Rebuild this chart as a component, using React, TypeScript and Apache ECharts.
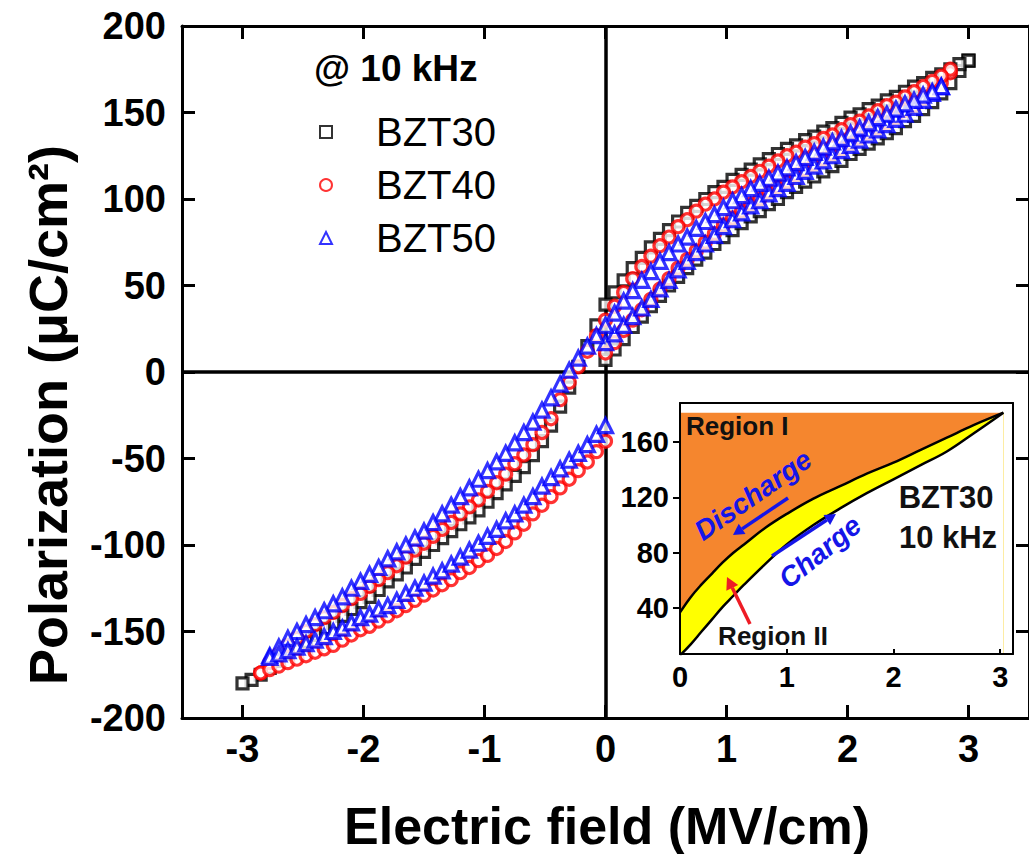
import React, { useEffect, useRef } from "react";
import * as echarts from "echarts";

// Shared field grid (MV/cm) used by every measured branch
const FIELD = [0, 0.075, 0.15, 0.225, 0.3, 0.375, 0.45, 0.525, 0.6, 0.675, 0.75, 0.825, 0.9, 0.975, 1.05, 1.125, 1.2, 1.275, 1.35, 1.425, 1.5, 1.575, 1.65, 1.725, 1.8, 1.875, 1.95, 2.025, 2.1, 2.175, 2.25, 2.325, 2.4, 2.475, 2.55, 2.625, 2.7, 2.775, 2.85, 2.925, 3.0];

// BZT30 (µC/cm²)
const BZT30_CHARGE = [7, 13, 19, 26, 32, 38, 44, 50, 55, 60, 65, 69, 74, 78, 82, 86, 90, 93, 97, 100, 104, 107, 110, 113, 116, 119, 122, 126, 129, 132, 135, 138, 141, 145, 148, 152, 156, 161, 167, 174, 180];
const BZT30_DIS_POS = [39, 46, 53, 60, 66, 72, 77, 82, 87, 92, 96, 100, 104, 107, 111, 114, 117, 120, 123, 126, 129, 131, 134, 136, 139, 141, 144, 147, 149, 152, 154, 157, 159, 162, 165, 167, 170, 172, 175, 178, 180];
const BZT30_DIS_NEG = [39, 27, 15, 3, -9, -20, -31, -40, -48, -55, -60, -65, -70, -75, -80, -84, -88, -92, -96, -100, -104, -108, -113, -117, -121, -126, -130, -133, -137, -141, -145, -148, -152, -156, -160, -163, -167, -171, -175, -178, -180];

// BZT40
const BZT40_CHARGE = [11, 17, 24, 30, 36, 42, 48, 54, 60, 65, 70, 75, 80, 85, 89, 93, 97, 100, 104, 107, 110, 114, 117, 120, 123, 126, 129, 132, 135, 138, 141, 144, 147, 151, 154, 158, 162, 167, 173];
const BZT40_DIS_POS = [30, 38, 46, 54, 61, 67, 73, 78, 84, 88, 93, 97, 100, 104, 107, 110, 113, 116, 119, 122, 125, 127, 130, 132, 135, 137, 140, 143, 145, 148, 151, 154, 156, 159, 162, 165, 168, 171, 175];
const BZT40_DIS_NEG = [30, 21, 12, 3, -6, -16, -27, -35, -42, -48, -53, -59, -64, -69, -74, -78, -82, -87, -91, -95, -99, -103, -107, -112, -116, -120, -124, -128, -131, -135, -139, -142, -146, -150, -154, -158, -163, -168, -174];
const BZT40_RETURN = [-40, -46, -52, -57, -62, -67, -72, -77, -82, -88, -93, -98, -102, -106, -109, -113, -116, -120, -123, -126, -129, -132, -135, -138, -141, -144, -147, -149, -152, -155, -158, -160, -162, -164, -166, -168, -170, -172, -174];

// BZT50
const BZT50_CHARGE = [17, 22, 27, 32, 37, 42, 48, 53, 59, 64, 69, 74, 79, 84, 88, 92, 96, 99, 103, 106, 109, 113, 116, 119, 122, 125, 128, 131, 134, 137, 140, 143, 146, 149, 153, 157, 161, 165];
const BZT50_DIS_POS = [27, 34, 41, 47, 53, 58, 64, 69, 74, 78, 83, 87, 91, 95, 99, 102, 106, 109, 112, 115, 118, 121, 124, 127, 130, 133, 135, 138, 141, 144, 147, 149, 152, 155, 157, 160, 162, 165];
const BZT50_DIS_NEG = [27, 21, 15, 8, 1, -7, -15, -22, -29, -35, -41, -47, -52, -57, -62, -67, -72, -77, -82, -87, -92, -96, -100, -104, -108, -113, -117, -121, -125, -130, -134, -138, -142, -146, -150, -154, -159, -164];
const BZT50_RETURN = [-31, -36, -42, -47, -51, -56, -61, -66, -72, -77, -82, -86, -91, -95, -99, -103, -107, -111, -115, -118, -122, -125, -128, -132, -135, -137, -140, -142, -145, -148, -150, -153, -155, -157, -159, -161, -163, -165];

// Inset (BZT30, 10 kHz, positive branch)
const INSET_E = [0, 0.1, 0.2, 0.3, 0.4, 0.5, 0.6, 0.8, 1.0, 1.25, 1.5, 1.75, 2.0, 2.25, 2.5, 2.75, 3.03];
const INSET_DISCHARGE = [37, 48, 57, 65, 73, 80, 86, 98, 108, 119, 128, 137, 145, 154, 163, 172, 181];
const INSET_CHARGE = [6, 14, 23, 32, 41, 49, 57, 72, 86, 100, 112, 123, 133, 143, 153, 166, 181];
const INSET_TOP = 181;

// Tick values
const X_TICKS = [-3, -2, -1, 0, 1, 2, 3];
const INSET_X_TICKS = [0, 1, 2, 3];
const INSET_Y_TICKS = [40, 80, 120, 160];

const FONT = "'Liberation Sans', Arial, Helvetica, sans-serif";

function branch(values: number[], sign: number, reverse: boolean, skipZero: boolean) {
  const pts: number[][] = [];
  for (let i = 0; i < values.length; i++) {
    if (skipZero && i === 0) continue;
    pts.push([sign * FIELD[i], values[i]]);
  }
  return reverse ? pts.reverse() : pts;
}

function pairs(xs: number[], ys: number[]) {
  return xs.map((x, i) => [x, ys[i]]);
}

function arrow(x1: number, y1: number, x2: number, y2: number, color: string, width: number, head: number) {
  const ang = Math.atan2(y2 - y1, x2 - x1);
  const hx = x2 - head * Math.cos(ang);
  const hy = y2 - head * Math.sin(ang);
  const px = -Math.sin(ang) * head * 0.55;
  const py = Math.cos(ang) * head * 0.55;
  return [
    { type: "line", z: 100, shape: { x1, y1, x2: hx, y2: hy }, style: { stroke: color, lineWidth: width } },
    { type: "polygon", z: 100, shape: { points: [[x2, y2], [hx + px, hy + py], [hx - px, hy - py]] }, style: { fill: color } },
  ];
}

const bzt30Data = [
  ...branch(BZT30_CHARGE, 1, false, false),
  ...branch(BZT30_DIS_POS, 1, true, false),
  ...branch(BZT30_DIS_NEG, -1, false, true),
];
const bzt40Data = [
  ...branch(BZT40_CHARGE, 1, false, false),
  ...branch(BZT40_DIS_POS, 1, true, false),
  ...branch(BZT40_DIS_NEG, -1, false, true),
  ...branch(BZT40_RETURN, -1, true, false),
];
const bzt50Data = [
  ...branch(BZT50_CHARGE, 1, false, false),
  ...branch(BZT50_DIS_POS, 1, true, false),
  ...branch(BZT50_DIS_NEG, -1, false, true),
  ...branch(BZT50_RETURN, -1, true, false),
];

const mainLine = { show: true, onZero: false, lineStyle: { color: "#000", width: 3 } };
const mainTick = { show: true, inside: true, length: 13, lineStyle: { color: "#000", width: 3 } };
const tickFont = { color: "#000", fontSize: 38, fontWeight: "bold", fontFamily: FONT };
const insetLine = { show: true, onZero: false, lineStyle: { color: "#000", width: 2 } };
const insetFont = { color: "#000", fontSize: 29, fontWeight: "bold", fontFamily: FONT };

const option: any = {
  animation: false,
  backgroundColor: "#fff",
  grid: [
    { left: 182, top: 26, width: 852, height: 692, show: false },
    { left: 680, top: 403, width: 333, height: 251, show: true, backgroundColor: "#fff", borderWidth: 0 },
  ],
  xAxis: [
    {
      type: "value", gridIndex: 0, position: "bottom", min: -3.5, max: 3.5,
      axisLine: mainLine,
      axisTick: { ...mainTick, customValues: X_TICKS },
      axisLabel: { show: true, customValues: X_TICKS, margin: 12, ...tickFont },
      splitLine: { show: false },
    },
    {
      type: "value", gridIndex: 0, position: "top", min: -3.5, max: 3.5,
      axisLine: mainLine,
      axisTick: { ...mainTick, customValues: X_TICKS },
      axisLabel: { show: false },
      splitLine: { show: false },
    },
    {
      type: "value", gridIndex: 1, position: "bottom", min: 0, max: 3.12, z: 10,
      axisLine: insetLine,
      axisTick: { show: true, inside: true, length: 5, lineStyle: { color: "#000", width: 2 }, customValues: INSET_X_TICKS },
      axisLabel: { show: true, customValues: INSET_X_TICKS, margin: 8, ...insetFont },
      splitLine: { show: false },
    },
    {
      type: "value", gridIndex: 1, position: "top", min: 0, max: 3.12, z: 10,
      axisLine: insetLine, axisTick: { show: false }, axisLabel: { show: false }, splitLine: { show: false },
    },
  ],
  yAxis: [
    {
      type: "value", gridIndex: 0, position: "left", min: -200, max: 200, interval: 50,
      axisLine: mainLine, axisTick: mainTick,
      axisLabel: { show: true, margin: 16, ...tickFont },
      splitLine: { show: false },
    },
    {
      type: "value", gridIndex: 0, position: "right", min: -200, max: 200, interval: 50,
      axisLine: mainLine, axisTick: mainTick, axisLabel: { show: false }, splitLine: { show: false },
    },
    {
      type: "value", gridIndex: 1, position: "left", min: 7, max: 188, z: 10,
      axisLine: insetLine,
      axisTick: { show: true, inside: false, length: 7, lineStyle: { color: "#000", width: 2 }, customValues: INSET_Y_TICKS },
      axisLabel: { show: true, customValues: INSET_Y_TICKS, margin: 11, ...insetFont },
      splitLine: { show: false },
    },
    {
      type: "value", gridIndex: 1, position: "right", min: 7, max: 188, z: 10,
      axisLine: insetLine, axisTick: { show: false }, axisLabel: { show: false }, splitLine: { show: false },
    },
  ],
  legend: {
    data: ["BZT30", "BZT40", "BZT50"],
    orient: "vertical",
    left: 314,
    top: 107,
    itemWidth: 12,
    itemHeight: 12,
    itemGap: 13,
    selectedMode: false,
    textStyle: { color: "#000", fontSize: 40, fontFamily: FONT, lineHeight: 40, padding: [0, 0, 0, 39] },
  },
  series: [
    {
      name: "BZT30", type: "scatter", xAxisIndex: 0, yAxisIndex: 0, z: 2,
      symbol: "rect", symbolSize: 11,
      itemStyle: { color: "#fff", borderColor: "#000", borderWidth: 3.2 },
      emphasis: { disabled: true },
      data: bzt30Data,
      markLine: {
        silent: true, z: 1, symbol: "none", label: { show: false },
        lineStyle: { color: "#000", width: 3.5, type: "solid" },
        emphasis: { disabled: true },
        data: [{ xAxis: 0 }, { yAxis: 0 }],
      },
    },
    {
      name: "BZT40", type: "scatter", xAxisIndex: 0, yAxisIndex: 0, z: 3,
      symbol: "circle", symbolSize: 12,
      itemStyle: { color: "#fff", borderColor: "#ff0000", borderWidth: 3.2 },
      emphasis: { disabled: true },
      data: bzt40Data,
    },
    {
      name: "BZT50", type: "scatter", xAxisIndex: 0, yAxisIndex: 0, z: 4,
      symbol: "triangle", symbolSize: 14,
      itemStyle: { color: "#fff", borderColor: "#0000ff", borderWidth: 3.2 },
      emphasis: { disabled: true },
      data: bzt50Data,
    },
    {
      type: "line", xAxisIndex: 2, yAxisIndex: 2, z: 2, silent: true,
      symbol: "none", showSymbol: false,
      lineStyle: { width: 0, opacity: 0 },
      areaStyle: { color: "#F5862E", opacity: 1 },
      data: [[INSET_E[0], INSET_TOP], [INSET_E[INSET_E.length - 1], INSET_TOP]],
    },
    {
      type: "line", xAxisIndex: 2, yAxisIndex: 2, z: 3, silent: true, smooth: 0.4,
      symbol: "none", showSymbol: false,
      lineStyle: { color: "#000", width: 2.5 },
      areaStyle: { color: "#FFFF00", opacity: 1 },
      data: pairs(INSET_E, INSET_DISCHARGE),
    },
    {
      type: "line", xAxisIndex: 2, yAxisIndex: 2, z: 4, silent: true, smooth: 0.4,
      symbol: "none", showSymbol: false,
      lineStyle: { color: "#000", width: 2.5 },
      areaStyle: { color: "#ffffff", opacity: 1 },
      data: pairs(INSET_E, INSET_CHARGE),
    },
  ],
  graphic: {
    elements: [
      {
        type: "text", x: 48, y: 415, rotation: Math.PI / 2, z: 100,
        style: { text: "Polarization (\u03bcC/cm\u00b2)", fill: "#000", fontSize: 54, fontWeight: "bold", fontFamily: FONT, align: "center", verticalAlign: "middle" },
      },
      {
        type: "text", x: 607, y: 826, z: 100,
        style: { text: "Electric field (MV/cm)", fill: "#000", fontSize: 52, fontWeight: "bold", fontFamily: FONT, align: "center", verticalAlign: "middle" },
      },
      {
        type: "text", x: 314, y: 68, z: 100,
        style: { text: "@ 10 kHz", fill: "#000", fontSize: 37, fontWeight: "bold", fontFamily: FONT, align: "left", verticalAlign: "middle" },
      },
      {
        type: "text", x: 686, y: 426, z: 100,
        style: { text: "Region I", fill: "#111", fontSize: 26, fontWeight: "bold", fontFamily: FONT, align: "left", verticalAlign: "middle" },
      },
      {
        type: "text", x: 773, y: 636, z: 100,
        style: { text: "Region II", fill: "#111", fontSize: 26, fontWeight: "bold", fontFamily: FONT, align: "center", verticalAlign: "middle" },
      },
      {
        type: "text", x: 946, y: 497, z: 100,
        style: { text: "BZT30", fill: "#111", fontSize: 31, fontWeight: "bold", fontFamily: FONT, align: "center", verticalAlign: "middle" },
      },
      {
        type: "text", x: 948, y: 537, z: 100,
        style: { text: "10 kHz", fill: "#111", fontSize: 31, fontWeight: "bold", fontFamily: FONT, align: "center", verticalAlign: "middle" },
      },
      {
        type: "text", x: 753, y: 495, rotation: 0.61, z: 100,
        style: { text: "Discharge", fill: "#1515E8", fontSize: 28, fontWeight: "bold", fontStyle: "italic", fontFamily: FONT, align: "center", verticalAlign: "middle" },
      },
      {
        type: "text", x: 820, y: 552, rotation: 0.68, z: 100,
        style: { text: "Charge", fill: "#1515E8", fontSize: 28, fontWeight: "bold", fontStyle: "italic", fontFamily: FONT, align: "center", verticalAlign: "middle" },
      },
      ...arrow(788, 498, 733, 535, "#1515E8", 3.5, 11),
      ...arrow(772, 556, 836, 514, "#1515E8", 3.5, 11),
      ...arrow(750, 624, 727, 577, "#EE1C25", 3.5, 12),
    ],
  },
};

export default function App() {
  const ref = useRef<HTMLDivElement>(null);
  useEffect(() => {
    if (!ref.current) return;
    const chart = echarts.init(ref.current, undefined, { renderer: "svg" });
    chart.setOption(option);
    return () => chart.dispose();
  }, []);
  return (
    <div
      ref={ref}
      style={{ position: "fixed", left: 0, top: 0, width: 1029, height: 854, background: "#fff" }}
    />
  );
}
